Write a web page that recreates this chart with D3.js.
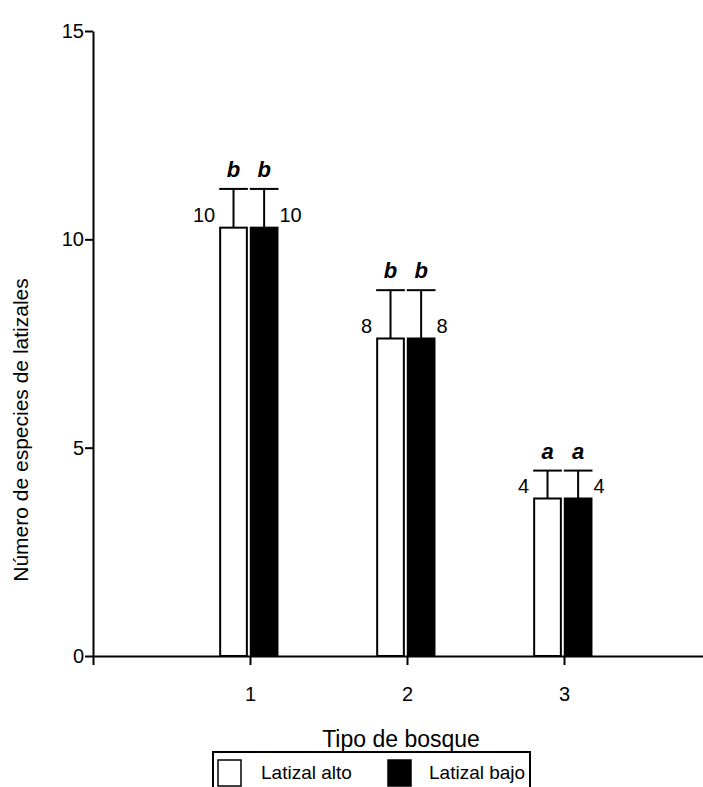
<!DOCTYPE html>
<html lang="es">
<head>
    <meta charset="UTF-8">
    <title>Latizales por tipo de bosque</title>
    <script src="https://d3js.org/d3.v7.min.js"></script>
    <style>
        body {
            margin: 0;
            background: #fff;
            overflow: hidden;
        }
        svg {
            display: block;
            font-family: "Liberation Sans", Arial, sans-serif;
        }
        .axis path, .axis line {
            stroke: #000;
            stroke-width: 2px;
        }
    </style>
</head>
<body>
    <svg width="703" height="787"></svg>

    <script>
        // data
        const bosques = [1, 2, 3];
        const latizalAlto = [10.28, 7.62, 3.78];
        const latizalBajo = [10.28, 7.62, 3.78];
        const errAlto = [0.93, 1.16, 0.67];
        const errBajo = [0.93, 1.16, 0.67];
        const nAlto = ["10", "8", "4"];
        const nBajo = ["10", "8", "4"];
        const letras = ["b", "b", "a"];
        const yTicks = [0, 5, 10, 15];
        const xTicks = [0, 1, 2, 3];

        const svg = d3.select("svg");

        const x = d3.scaleLinear().domain([0, 4]).range([93, 721]);
        const y = d3.scaleLinear().domain([0, 15]).range([656, 31]);

        // bar offsets relative to group centre (in x units)
        const altoX0 = -0.19, altoX1 = -0.02;
        const bajoX0 = 0.005, bajoX1 = 0.175;

        const series = [
            { name: "Latizal alto", vals: latizalAlto, err: errAlto, n: nAlto, fill: "#fff", x0: altoX0, x1: altoX1 },
            { name: "Latizal bajo", vals: latizalBajo, err: errBajo, n: nBajo, fill: "#000", x0: bajoX0, x1: bajoX1 }
        ];

        const plot = svg.append("g");

        series.forEach((s, si) => {
            const g = plot.append("g");
            bosques.forEach((b, i) => {
                const left = x(b + s.x0), right = x(b + s.x1);
                const mid = (left + right) / 2;
                const top = y(s.vals[i]);
                const capY = y(s.vals[i] + s.err[i]);

                g.append("rect")
                    .attr("x", left)
                    .attr("y", top)
                    .attr("width", right - left)
                    .attr("height", y(0) - top)
                    .attr("fill", s.fill)
                    .attr("stroke", "#000")
                    .attr("stroke-width", 2);

                // error bar
                g.append("line")
                    .attr("x1", mid).attr("x2", mid)
                    .attr("y1", top).attr("y2", capY)
                    .attr("stroke", "#000").attr("stroke-width", 2);
                g.append("line")
                    .attr("x1", left - 1).attr("x2", right + 1)
                    .attr("y1", capY).attr("y2", capY)
                    .attr("stroke", "#000").attr("stroke-width", 2);

                // significance letter
                g.append("text")
                    .attr("x", mid)
                    .attr("y", capY - 12)
                    .attr("text-anchor", "middle")
                    .style("font-size", "22px")
                    .style("font-weight", "bold")
                    .style("font-style", "italic")
                    .text(letras[i]);

                // sample size
                g.append("text")
                    .attr("x", si === 0 ? left - 5 : right + 2)
                    .attr("y", top - 6)
                    .attr("text-anchor", si === 0 ? "end" : "start")
                    .style("font-size", "20px")
                    .text(s.n[i]);
            });
        });

        // axes
        svg.append("g")
            .attr("class", "axis")
            .attr("transform", `translate(0,${y(0)})`)
            .call(d3.axisBottom(x).tickValues(xTicks)
                .tickFormat(d => d === 0 ? "" : d)
                .tickSize(9).tickSizeOuter(0).tickPadding(22));

        svg.append("g")
            .attr("class", "axis")
            .attr("transform", `translate(${x(0)},0)`)
            .call(d3.axisLeft(y).tickValues(yTicks)
                .tickSize(8).tickSizeOuter(0).tickPadding(1));

        svg.selectAll(".axis .domain").attr("stroke-width", 2.5);
        svg.selectAll(".axis text")
            .attr("fill", "#000")
            .style("font-family", "'Liberation Sans', Arial, sans-serif")
            .style("font-size", "20px");

        // axis titles
        svg.append("text")
            .attr("x", 401)
            .attr("y", 747)
            .attr("text-anchor", "middle")
            .style("font-size", "23px")
            .text("Tipo de bosque");

        svg.append("text")
            .attr("transform", "translate(28,430) rotate(-90)")
            .attr("text-anchor", "middle")
            .style("font-size", "21px")
            .text("Número de especies de latizales");

        // legend
        const leg = svg.append("g");
        leg.append("path")
            .attr("d", "M213,787 V752 H530 V787")
            .attr("fill", "none")
            .attr("stroke", "#000")
            .attr("stroke-width", 2);

        const legItems = [
            { name: series[0].name, fill: series[0].fill, bx: 218, tx: 261 },
            { name: series[1].name, fill: series[1].fill, bx: 388, tx: 429 }
        ];
        legItems.forEach(d => {
            leg.append("rect")
                .attr("x", d.bx).attr("y", 760)
                .attr("width", 23).attr("height", 26)
                .attr("fill", d.fill)
                .attr("stroke", "#000").attr("stroke-width", 1.5);
            leg.append("text")
                .attr("x", d.tx).attr("y", 779)
                .style("font-size", "19px")
                .text(d.name);
        });
    </script>
</body>
</html>
